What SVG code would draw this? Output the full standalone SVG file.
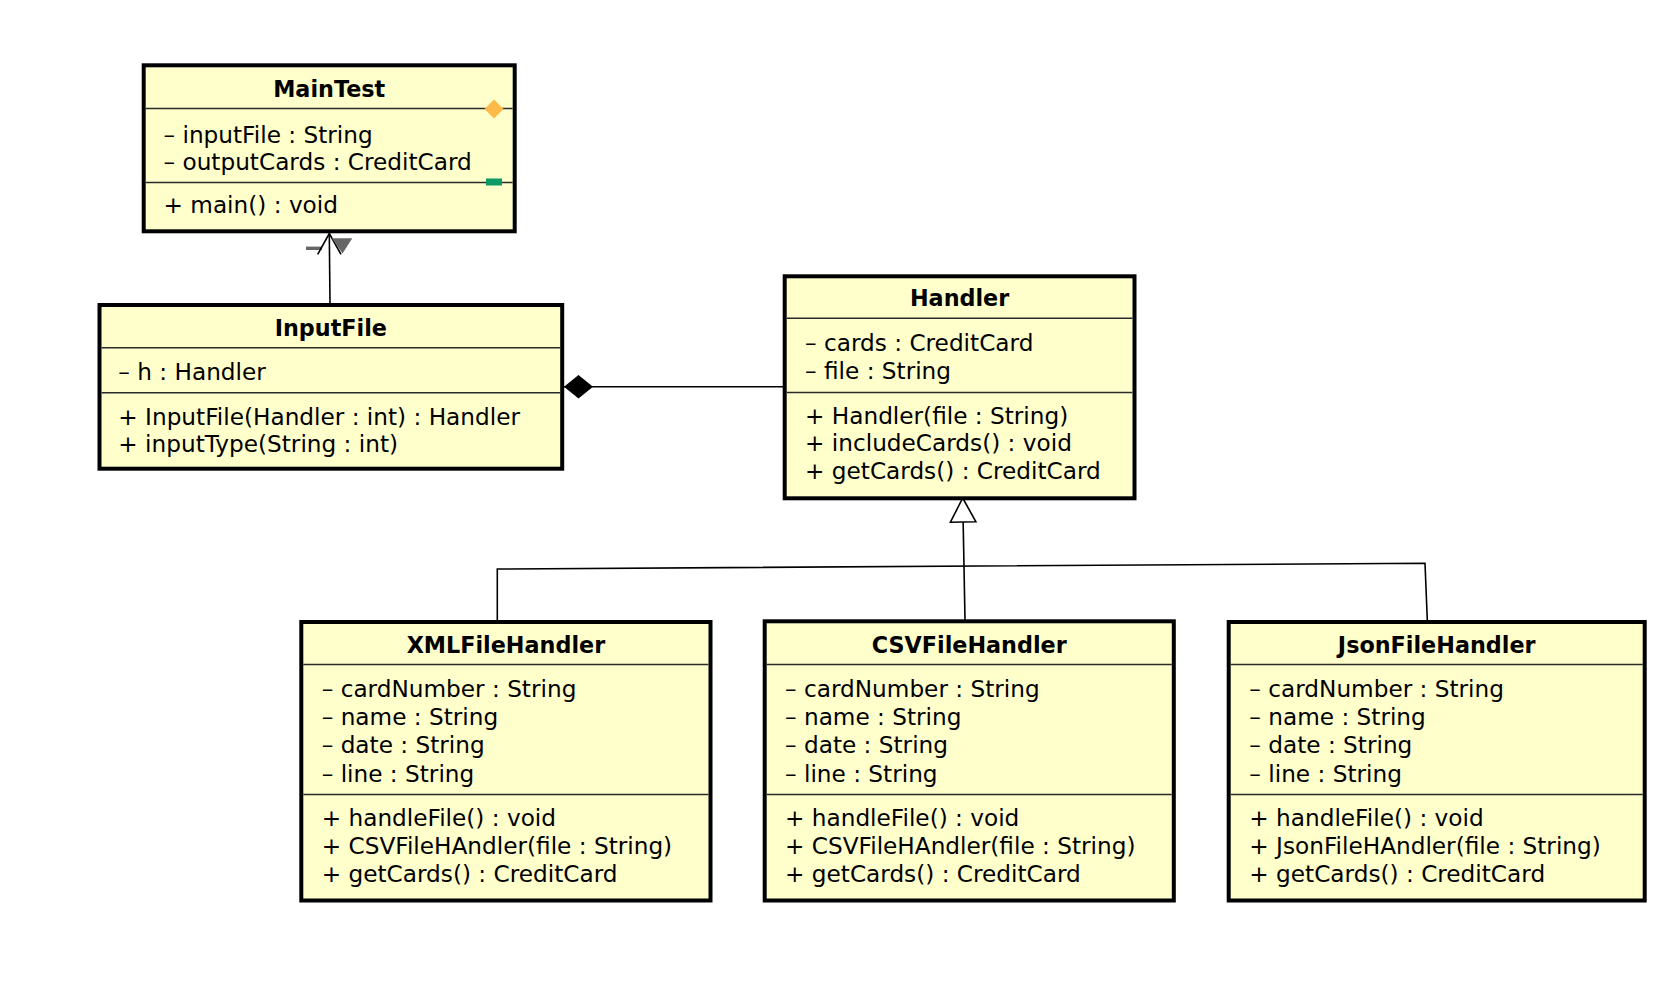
<svg xmlns="http://www.w3.org/2000/svg" width="1674" height="1004" viewBox="0 0 1674 1004">
  <style>
    .box { fill: #FFFFCC; stroke: #000; stroke-width: 4; }
    .sep { stroke: #2a2a2a; stroke-width: 1.6; }
    .t { font-family: "DejaVu Sans", "Liberation Sans", sans-serif; font-size: 23.2px; fill: #000; }
    .title { font-weight: bold; font-size: 22.3px; text-anchor: middle; }
    .edge { stroke: #000; stroke-width: 1.6; fill: none; }
  </style>
  <defs>
    <!-- filled diamond for composition -->
    <marker id="composite" markerUnits="userSpaceOnUse" viewBox="-31 -13 33 26" refX="0" refY="0" markerWidth="33" markerHeight="26" orient="auto">
      <path d="M0,0 L-14.5,-11.7 L-29,0 L-14.5,11.7 Z" fill="#000"/>
    </marker>
    <!-- hollow triangle for generalization -->
    <marker id="generalization" markerUnits="userSpaceOnUse" viewBox="-26 -15 29 30" refX="0" refY="0" markerWidth="29" markerHeight="30" orient="auto">
      <path d="M0,0 L-24,-12.75 L-24,12.75 Z" fill="#fff" stroke="#000" stroke-width="1.6" stroke-linejoin="miter"/>
    </marker>
  </defs>

  <rect width="1674" height="1004" fill="#fff"/>

  <!-- connectors -->
  <g id="connectors">
    <!-- InputFile to MainTest -->
    <line class="edge" x1="330" y1="303" x2="329.3" y2="234"/>
    <rect x="306" y="246.6" width="16" height="3.4" fill="#666"/>
    <polyline class="edge" points="317.7,254.3 329.3,233.5 341,254.3"/>
    <polygon points="331.7,238.3 352.3,238.3 342.5,253.5" fill="#666"/>
    <!-- Handler composed in InputFile -->
    <line class="edge" x1="783" y1="386.7" x2="564" y2="386.7" marker-end="url(#composite)"/>
    <!-- CSVFileHandler generalizes Handler -->
    <line class="edge" x1="965" y1="620" x2="962.7" y2="498" marker-end="url(#generalization)"/>
    <!-- XMLFileHandler / JsonFileHandler link -->
    <polyline class="edge" points="497.3,620 497.3,569 1425,563.3 1427.3,620"/>
  </g>

  <!-- MainTest -->
  <g id="MainTest">
    <rect class="box" x="143.7" y="65.3" width="371" height="166"/>
    <line class="sep" x1="145.7" y1="108.5" x2="512.7" y2="108.5"/>
    <line class="sep" x1="145.7" y1="182.5" x2="512.7" y2="182.5"/>
    <text class="t title" x="329.2" y="97">MainTest</text>
    <text class="t" x="163.5" y="143.3">– inputFile : String</text>
    <text class="t" x="163.5" y="170">– outputCards : CreditCard</text>
    <text class="t" x="163.5" y="213">+ main() : void</text>
    <polygon points="494,99.5 503.5,109 494,118.5 484.5,109" fill="#FDB94A"/>
    <rect x="486" y="178.5" width="16" height="7" fill="#0E9A66"/>
  </g>

  <!-- InputFile -->
  <g id="InputFile">
    <rect class="box" x="99.5" y="305" width="462.7" height="163.7"/>
    <line class="sep" x1="101.5" y1="347.7" x2="560.2" y2="347.7"/>
    <line class="sep" x1="101.5" y1="392.7" x2="560.2" y2="392.7"/>
    <text class="t title" x="330.8" y="335.7">InputFile</text>
    <text class="t" x="118.3" y="380">– h : Handler</text>
    <text class="t" x="118.3" y="425">+ InputFile(Handler : int) : Handler</text>
    <text class="t" x="118.3" y="451.7">+ inputType(String : int)</text>
  </g>

  <!-- Handler -->
  <g id="Handler">
    <rect class="box" x="784.7" y="276.3" width="349.8" height="222"/>
    <line class="sep" x1="786.7" y1="318.3" x2="1132.5" y2="318.3"/>
    <line class="sep" x1="786.7" y1="392.5" x2="1132.5" y2="392.5"/>
    <text class="t title" x="959.6" y="306">Handler</text>
    <text class="t" x="805" y="351">– cards : CreditCard</text>
    <text class="t" x="805" y="379">– file : String</text>
    <text class="t" x="805" y="423.5">+ Handler(file : String)</text>
    <text class="t" x="805" y="451">+ includeCards() : void</text>
    <text class="t" x="805" y="478.5">+ getCards() : CreditCard</text>
  </g>

  <!-- XMLFileHandler -->
  <g id="XMLFileHandler">
    <rect class="box" x="301.3" y="622" width="409.2" height="278.5"/>
    <line class="sep" x1="303.3" y1="664.5" x2="708.5" y2="664.5"/>
    <line class="sep" x1="303.3" y1="794.5" x2="708.5" y2="794.5"/>
    <text class="t title" x="505.9" y="653">XMLFileHandler</text>
    <text class="t" x="321.7" y="697">– cardNumber : String</text>
    <text class="t" x="321.7" y="725.3">– name : String</text>
    <text class="t" x="321.7" y="753.3">– date : String</text>
    <text class="t" x="321.7" y="781.5">– line : String</text>
    <text class="t" x="321.7" y="826">+ handleFile() : void</text>
    <text class="t" x="321.7" y="854">+ CSVFileHAndler(file : String)</text>
    <text class="t" x="321.7" y="881.7">+ getCards() : CreditCard</text>
  </g>

  <!-- CSVFileHandler -->
  <g id="CSVFileHandler">
    <rect class="box" x="764.7" y="621.3" width="409.1" height="279.2"/>
    <line class="sep" x1="766.7" y1="664.5" x2="1171.8" y2="664.5"/>
    <line class="sep" x1="766.7" y1="794.5" x2="1171.8" y2="794.5"/>
    <text class="t title" x="969.2" y="653">CSVFileHandler</text>
    <text class="t" x="785" y="697">– cardNumber : String</text>
    <text class="t" x="785" y="725.3">– name : String</text>
    <text class="t" x="785" y="753.3">– date : String</text>
    <text class="t" x="785" y="781.5">– line : String</text>
    <text class="t" x="785" y="826">+ handleFile() : void</text>
    <text class="t" x="785" y="854">+ CSVFileHAndler(file : String)</text>
    <text class="t" x="785" y="881.7">+ getCards() : CreditCard</text>
  </g>

  <!-- JsonFileHandler -->
  <g id="JsonFileHandler">
    <rect class="box" x="1228.7" y="622" width="416" height="278.5"/>
    <line class="sep" x1="1230.7" y1="664.5" x2="1642.7" y2="664.5"/>
    <line class="sep" x1="1230.7" y1="794.5" x2="1642.7" y2="794.5"/>
    <text class="t title" x="1436.7" y="653">JsonFileHandler</text>
    <text class="t" x="1249.3" y="697">– cardNumber : String</text>
    <text class="t" x="1249.3" y="725.3">– name : String</text>
    <text class="t" x="1249.3" y="753.3">– date : String</text>
    <text class="t" x="1249.3" y="781.5">– line : String</text>
    <text class="t" x="1249.3" y="826">+ handleFile() : void</text>
    <text class="t" x="1249.3" y="854">+ JsonFileHAndler(file : String)</text>
    <text class="t" x="1249.3" y="881.7">+ getCards() : CreditCard</text>
  </g>
</svg>
